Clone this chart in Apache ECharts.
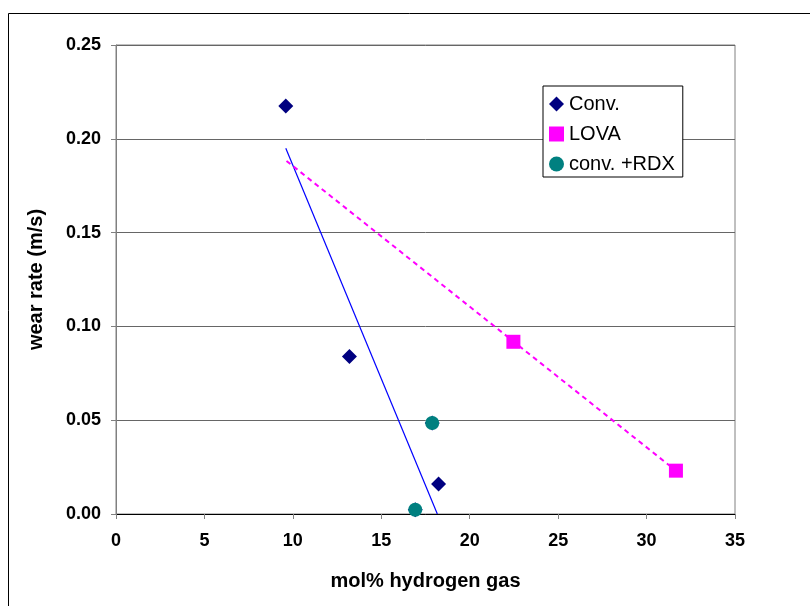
<!DOCTYPE html>
<html>
<head>
<meta charset="utf-8">
<script src="https://cdn.jsdelivr.net/npm/echarts@6/dist/echarts.min.js"></script>
<style>
  html, body { margin: 0; padding: 0; background: #ffffff; }
  #chart { width: 810px; height: 606px; }
</style>
</head>
<body>
<div id="chart"></div>
<script>
// ---- Data ----
const seriesNames = ['Conv.', 'LOVA', 'conv. +RDX'];

const convX = [9.6, 13.2, 18.24, 17.88, 16.92];
const convY = [0.2175, 0.0839, 0.016, 0.0485, 0.0023];

const lovaX = [22.47, 31.66];
const lovaY = [0.0918, 0.0231];

const rdxX = [17.88, 16.92];
const rdxY = [0.0485, 0.0023];

// trendlines (endpoints as drawn in the reference)
const convTrendX = [9.6, 18.17];
const convTrendY = [0.195, 0.0];
const lovaTrendX = [9.64, 31.66];
const lovaTrendY = [0.1882, 0.0231];

const xTicks = [0, 5, 10, 15, 20, 25, 30, 35];
const yTicks = [0, 0.05, 0.10, 0.15, 0.20, 0.25];

const xName = 'mol% hydrogen gas';
const yName = 'wear rate (m/s)';

function pairs(xs, ys) { return xs.map((x, i) => [x, ys[i]]); }

const chart = echarts.init(document.getElementById('chart'), null, { renderer: 'canvas' });

const axisColor = '#808080';
const labelFont = { fontFamily: 'Liberation Sans, Arial, sans-serif', fontWeight: 'bold', fontSize: 18, color: '#000' };

chart.setOption({
  backgroundColor: '#ffffff',
  animation: false,
  graphic: [{
    type: 'rect',
    shape: { x: 8.5, y: 13.5, width: 900, height: 700 },
    style: { fill: 'none', stroke: '#000', lineWidth: 1 },
    silent: true, z: -10
  }],
  grid: {
    left: 116, right: 75, top: 45, bottom: 92,
    show: true, borderColor: axisColor, borderWidth: 1, backgroundColor: 'transparent',
    containLabel: false
  },
  legend: {
    data: [
      { name: seriesNames[0], icon: 'diamond' },
      { name: seriesNames[1], icon: 'rect' },
      { name: seriesNames[2], icon: 'circle' }
    ],
    orient: 'vertical',
    left: 543, top: 86,
    padding: [8, 8, 3, 6],
    itemGap: 10,
    itemWidth: 15, itemHeight: 15,
    itemStyle: { borderWidth: 0 },
    backgroundColor: '#ffffff',
    borderColor: '#000', borderWidth: 1, borderRadius: 0,
    textStyle: { fontFamily: 'Liberation Sans, Arial, sans-serif', fontSize: 20, color: '#000', padding: [0, 0, 0, 0] }
  },
  xAxis: {
    type: 'value',
    min: xTicks[0], max: xTicks[xTicks.length - 1], interval: 5,
    name: xName, nameLocation: 'middle', nameGap: 57,
    nameTextStyle: { fontFamily: 'Liberation Sans, Arial, sans-serif', fontWeight: 'bold', fontSize: 20, color: '#000' },
    axisLine: { show: true, onZero: false, lineStyle: { color: '#000', width: 1 } },
    axisTick: { show: true, inside: false, length: 5, lineStyle: { color: axisColor } },
    axisLabel: Object.assign({ show: true, margin: 18 }, labelFont),
    splitLine: { show: false }
  },
  yAxis: {
    type: 'value',
    min: yTicks[0], max: yTicks[yTicks.length - 1], interval: 0.05,
    name: yName, nameLocation: 'middle', nameGap: 70, nameRotate: 90,
    nameTextStyle: { fontFamily: 'Liberation Sans, Arial, sans-serif', fontWeight: 'bold', fontSize: 20, color: '#000' },
    axisLine: { show: true, onZero: false, lineStyle: { color: axisColor, width: 1 } },
    axisTick: { show: true, inside: false, length: 5, lineStyle: { color: axisColor } },
    axisLabel: Object.assign({ show: true, margin: 15, formatter: v => v.toFixed(2) }, labelFont),
    splitLine: { show: true, lineStyle: { color: '#666666', width: 1 } }
  },
  series: [
    {
      name: 'convTrend', type: 'line', data: pairs(convTrendX, convTrendY),
      showSymbol: false, symbol: 'none', silent: true, z: 1,
      lineStyle: { color: '#0000FF', width: 1.2 }
    },
    {
      name: 'lovaTrend', type: 'line', data: pairs(lovaTrendX, lovaTrendY),
      showSymbol: false, symbol: 'none', silent: true, z: 1,
      lineStyle: { color: '#FF00FF', width: 2, type: [5, 4] }
    },
    {
      name: seriesNames[0], type: 'scatter', data: pairs(convX, convY),
      symbol: 'diamond', symbolSize: 15, z: 3,
      itemStyle: { color: '#000080', opacity: 1 }
    },
    {
      name: seriesNames[1], type: 'scatter', data: pairs(lovaX, lovaY),
      symbol: 'rect', symbolSize: 14, z: 4,
      itemStyle: { color: '#FF00FF', opacity: 1 }
    },
    {
      name: seriesNames[2], type: 'scatter', data: pairs(rdxX, rdxY),
      symbol: 'circle', symbolSize: 14, z: 5,
      itemStyle: { color: '#008080', opacity: 1 }
    }
  ]
});
</script>
</body>
</html>
